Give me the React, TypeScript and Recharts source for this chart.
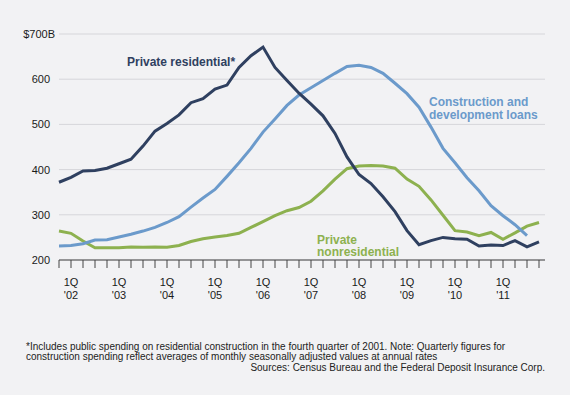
import { LineChart, Line, XAxis, YAxis, CartesianGrid } from 'recharts';

// quarterly, 4Q 2001 .. 4Q 2011 ($ billions)
const firstYear = 2001;
const firstQuarter = 4;

const privateResidential = [
  372, 383, 397, 398, 403, 413, 423, 452, 485, 502, 521, 548, 557, 578, 587, 626, 652, 671,
  626, 597, 569, 545, 519, 480, 428, 389, 369, 340, 307, 265, 234, 243, 250, 247, 246, 231,
  233, 232, 243, 229, 240,
];

const constructionLoans = [
  231, 232, 236, 244, 245, 251, 257, 264, 272, 283, 296, 317, 337, 356, 385, 415, 447, 483,
  512, 542, 565, 581, 597, 613, 628, 631, 626, 613, 591, 568, 538, 494, 447, 415, 382, 353,
  320, 298, 278, 254, null,
];

const privateNonresidential = [
  264, 259, 242, 227, 227, 227, 229, 228, 229, 228, 232, 241, 247, 251, 254, 259, 272, 285,
  298, 309, 316, 330, 353, 379, 402, 408, 409, 408, 403, 379, 363, 333, 299, 265, 262, 254,
  261, 246, 260, 275, 283,
];

const yTicks = [200, 300, 400, 500, 600, 700];

const quarters = privateResidential.map((_, i) => {
  const q = firstQuarter - 1 + i;
  return { year: firstYear + Math.floor(q / 4), q: (q % 4) + 1 };
});

const data = quarters.map((qt, i) => ({
  idx: i,
  name: `${qt.q}Q ${qt.year}`,
  residential: privateResidential[i],
  loans: constructionLoans[i],
  nonresidential: privateNonresidential[i],
}));

const FONT = '"Liberation Sans", Arial, Helvetica, sans-serif';
const DARK = '#2f4060';
const BLUE = '#6b9acb';
const GREEN = '#8db14f';

function XTick({ x, y, payload }: any) {
  const qt = quarters[payload.value];
  if (!qt || qt.q !== 1) return null;
  return (
    <g>
      <text x={x} y={y + 16} textAnchor="middle" fontSize={11} fill="#1a1a1a" fontFamily={FONT}>
        1Q
      </text>
      <text x={x} y={y + 29} textAnchor="middle" fontSize={11} fill="#1a1a1a" fontFamily={FONT}>
        {"'" + String(qt.year).slice(2)}
      </text>
    </g>
  );
}

function YTick({ y, payload }: any) {
  const top = payload.value === 700;
  return (
    <text x={top ? 55 : 50} y={y + 4} textAnchor="end" fontSize={11} fill="#1a1a1a" fontFamily={FONT}>
      {top ? '$700B' : payload.value}
    </text>
  );
}

export default function App() {
  return (
    <div style={{ position: 'absolute', left: 0, top: 0, width: 570, height: 395, background: '#f2f2f4' }}>
      <LineChart width={570} height={395} data={data} margin={{ top: 34, right: 25, bottom: 105, left: 0 }}>
        <CartesianGrid vertical={false} stroke="#d6d6da" />
        <XAxis
          dataKey="idx"
          type="number"
          domain={[0, 40.5]}
          ticks={data.map(d => d.idx)}
          interval={0}
          tick={<XTick />}
          tickSize={8}
          tickLine={{ stroke: '#444' }}
          axisLine={{ stroke: '#444' }}
        />
        <YAxis
          domain={[200, 700]}
          ticks={yTicks}
          width={59}
          axisLine={false}
          tickLine={false}
          tick={<YTick />}
        />
        <Line dataKey="nonresidential" stroke={GREEN} strokeWidth={3} dot={false} isAnimationActive={false} />
        <Line dataKey="loans" stroke={BLUE} strokeWidth={3} dot={false} isAnimationActive={false} />
        <Line dataKey="residential" stroke={DARK} strokeWidth={3} dot={false} isAnimationActive={false} />
      </LineChart>
      <svg width={570} height={395} style={{ position: 'absolute', left: 0, top: 0, pointerEvents: 'none' }}>
        <g fontFamily={FONT} fontWeight="bold" fontSize={12}>
          <text x={127} y={66} fill={DARK}>Private residential*</text>
          <text x={429} y={105.5} fill={BLUE}>Construction and</text>
          <text x={429} y={118.5} fill={BLUE}>development loans</text>
          <text x={317} y={243.5} fill={GREEN}>Private</text>
          <text x={317} y={256} fill={GREEN}>nonresidential</text>
        </g>
        <g fontFamily={FONT} fontSize={10} fill="#222">
          <text x={26} y={350}>
            *Includes public spending on residential construction in the fourth quarter of 2001. Note: Quarterly figures for
          </text>
          <text x={26} y={360}>
            construction spending reflect averages of monthly seasonally adjusted values at annual rates
          </text>
          <text x={545} y={371} textAnchor="end">
            Sources: Census Bureau and the Federal Deposit Insurance Corp.
          </text>
        </g>
      </svg>
    </div>
  );
}
